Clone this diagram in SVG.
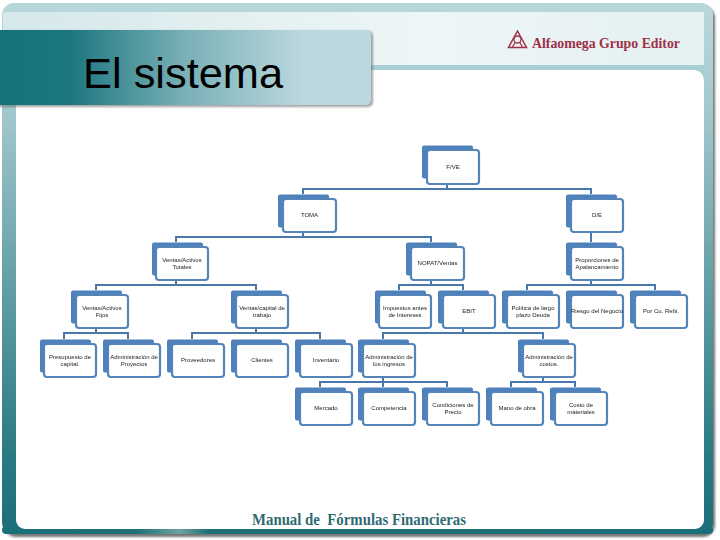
<svg xmlns="http://www.w3.org/2000/svg" width="720" height="540" viewBox="0 0 720 540">
<style>
.back{fill:#4f81bd}
.front{fill:#fff;stroke:#5585b8;stroke-width:2.200}
.lbl{font-family:"Liberation Sans",Arial,sans-serif;font-size:6px;fill:#222;text-anchor:middle;filter:url(#soft)}
.conn path{fill:none;stroke:#4a78ad;stroke-width:2}
</style>
<defs>
<filter id="soft" x="-10%" y="-30%" width="120%" height="160%"><feGaussianBlur stdDeviation="0.25"/></filter>
<filter id="shadow" x="-5%" y="-5%" width="110%" height="115%"><feGaussianBlur stdDeviation="1"/></filter>
<linearGradient id="side" x1="0" y1="0" x2="0" y2="1">
<stop offset="0" stop-color="#b7d7db"/><stop offset="0.12" stop-color="#aed0d4"/><stop offset="0.22" stop-color="#9fc6cb"/><stop offset="0.55" stop-color="#5f9ca3"/><stop offset="0.85" stop-color="#2a7a84"/><stop offset="1" stop-color="#1b6f78"/>
</linearGradient>
<linearGradient id="band" x1="0" y1="0" x2="1" y2="0">
<stop offset="0" stop-color="#d5e8ea"/><stop offset="0.6" stop-color="#eef6f7"/><stop offset="1" stop-color="#e4f0f2"/>
</linearGradient>
<linearGradient id="title" x1="0" y1="0" x2="1" y2="0">
<stop offset="0" stop-color="#14727b"/><stop offset="0.2" stop-color="#1c767f"/><stop offset="0.5" stop-color="#78afb6"/><stop offset="0.82" stop-color="#bbd8de"/><stop offset="1" stop-color="#bcd9df"/>
</linearGradient>
<linearGradient id="bottom" x1="0" y1="0" x2="1" y2="0">
<stop offset="0" stop-color="#1b6f78"/><stop offset="0.19" stop-color="#1f7079"/><stop offset="0.25" stop-color="#6fa39f"/><stop offset="0.29" stop-color="#1f6e78"/><stop offset="1" stop-color="#1b6f78"/>
</linearGradient>
</defs>
<rect width="720" height="540" fill="#fff"/>
<g id="frame">
<rect x="4" y="6" width="711" height="531" rx="12" fill="#777" filter="url(#shadow)"/>
<rect x="2" y="3" width="711" height="531" rx="12" fill="url(#side)"/>
<rect x="2" y="526" width="711" height="8" rx="4" fill="url(#bottom)"/>
<rect x="3" y="12" width="701" height="53" fill="url(#band)"/>
<rect x="16" y="70" width="688" height="459" rx="9" fill="#fff"/>
<rect x="3" y="65" width="701" height="5" fill="#a9cfd4"/>
<path d="M16 70h678a10 10 0 0 1 10 10v-10z" fill="#a9cfd4"/>
</g>
<g id="logo" fill="none" stroke="#a03048">
<path d="M517.500 31L526.500 47.500H508.500Z" stroke-width="1.500"/>
<circle cx="517.500" cy="39.500" r="3.500" stroke-width="1.300"/>
<path d="M512.500 47L515.500 42M522.500 47L519.500 42" stroke-width="1.300"/>
<text x="532" y="48" stroke="none" font-family="'Liberation Serif','Times New Roman',serif" font-weight="bold" font-size="14.500" fill="#9e3048" textLength="148" lengthAdjust="spacingAndGlyphs">Alfaomega Grupo Editor</text>
</g>
<g id="title-bar">
<rect x="-6" y="31" width="379" height="76" rx="5" fill="#666" opacity="0.6" filter="url(#shadow)"/>
<rect x="-6" y="30" width="377" height="75" rx="5" fill="url(#title)"/>
<text x="83" y="87.500" font-family="'Liberation Sans',Arial,sans-serif" font-size="43.400" fill="#000">El sistema</text>
</g>
<g class="conn" id="connectors">
<path d="M447 184V189M303 194V189H591V194"/>
<path d="M303 232V237M176 242V237H431V242"/>
<path d="M591 232V242"/>
<path d="M176 280V285M96 290V285H256V290"/>
<path d="M431 280V285M399 290V285H463V290"/>
<path d="M591 280V285M527 290V285H655V290"/>
<path d="M96 328V333M64 339V333H128V339"/>
<path d="M256 328V333M192 339V333H320V339"/>
<path d="M463 328V333M383 339V333H543V339"/>
<path d="M383 377V382M320 387V382H447V387M383 382V387"/>
<path d="M543 377V382M511 387V382H575V387"/>
</g>
<g id="n-root"><rect class="back" x="422" y="145.500" width="51" height="33" rx="2"/><rect class="front" x="427" y="150" width="52" height="34" rx="3"/><text class="lbl" x="453" y="169">F/VE</text></g>
<g id="n-toma"><rect class="back" x="278" y="194.500" width="51" height="33" rx="2"/><rect class="front" x="283" y="199" width="53" height="33" rx="3"/><text class="lbl" x="309.500" y="217">TOMA</text></g>
<g id="n-de"><rect class="back" x="566" y="194.500" width="51" height="33" rx="2"/><rect class="front" x="571" y="199" width="52" height="33" rx="3"/><text class="lbl" x="597" y="217">D/E</text></g>
<g id="n-vat"><rect class="back" x="152" y="242.500" width="51" height="33" rx="2"/><rect class="front" x="156" y="247" width="52" height="33" rx="3"/><text class="lbl" x="182" y="262">Ventas/Activos</text><text class="lbl" x="182" y="269">Totales</text></g>
<g id="n-nopat"><rect class="back" x="406" y="242.500" width="51" height="33" rx="2"/><rect class="front" x="411" y="247" width="53" height="33" rx="3"/><text class="lbl" x="437.500" y="265">NOPAT/Ventas</text></g>
<g id="n-prop"><rect class="back" x="566" y="242.500" width="51" height="33" rx="2"/><rect class="front" x="571" y="247" width="52" height="33" rx="3"/><text class="lbl" x="597" y="262">Proporciones de</text><text class="lbl" x="597" y="269">Apalancamiento</text></g>
<g id="n-vaf"><rect class="back" x="71" y="290.500" width="51" height="33" rx="2"/><rect class="front" x="76" y="295" width="52" height="33" rx="3"/><text class="lbl" x="102" y="310">Ventas/Activos</text><text class="lbl" x="102" y="317">Fijos</text></g>
<g id="n-vct"><rect class="back" x="231" y="290.500" width="51" height="33" rx="2"/><rect class="front" x="236" y="295" width="52" height="33" rx="3"/><text class="lbl" x="262" y="310">Ventas/capital de</text><text class="lbl" x="262" y="317">trabajo</text></g>
<g id="n-imp"><rect class="back" x="375" y="290.500" width="51" height="33" rx="2"/><rect class="front" x="379" y="295" width="52" height="33" rx="3"/><text class="lbl" x="405" y="310">Impuestos antes</text><text class="lbl" x="405" y="317">de Intereses</text></g>
<g id="n-ebit"><rect class="back" x="438" y="290.500" width="51" height="33" rx="2"/><rect class="front" x="443" y="295" width="52" height="33" rx="3"/><text class="lbl" x="469" y="313">EBIT</text></g>
<g id="n-pol"><rect class="back" x="502" y="290.500" width="51" height="33" rx="2"/><rect class="front" x="507" y="295" width="52" height="33" rx="3"/><text class="lbl" x="533" y="310">Política de largo</text><text class="lbl" x="533" y="317">plazo Deuda</text></g>
<g id="n-rie"><rect class="back" x="566" y="290.500" width="51" height="33" rx="2"/><rect class="front" x="571" y="295" width="52" height="33" rx="3"/><text class="lbl" x="597" y="313">Riesgo del Negocio</text></g>
<g id="n-por"><rect class="back" x="630" y="290.500" width="51" height="33" rx="2"/><rect class="front" x="635" y="295" width="52" height="33" rx="3"/><text class="lbl" x="661" y="313">Por Cu. Rebi.</text></g>
<g id="n-pre"><rect class="back" x="40" y="339.500" width="51" height="33" rx="2"/><rect class="front" x="44" y="344" width="52" height="33" rx="3"/><text class="lbl" x="70" y="359">Presupuesto de</text><text class="lbl" x="70" y="366">capital.</text></g>
<g id="n-adm"><rect class="back" x="103" y="339.500" width="51" height="33" rx="2"/><rect class="front" x="108" y="344" width="52" height="33" rx="3"/><text class="lbl" x="134" y="359">Administración de</text><text class="lbl" x="134" y="366">Proyectos</text></g>
<g id="n-prov"><rect class="back" x="167" y="339.500" width="51" height="33" rx="2"/><rect class="front" x="172" y="344" width="52" height="33" rx="3"/><text class="lbl" x="198" y="362">Proveedores</text></g>
<g id="n-cli"><rect class="back" x="231" y="339.500" width="51" height="33" rx="2"/><rect class="front" x="236" y="344" width="52" height="33" rx="3"/><text class="lbl" x="262" y="362">Clientes</text></g>
<g id="n-inv"><rect class="back" x="295" y="339.500" width="51" height="33" rx="2"/><rect class="front" x="300" y="344" width="52" height="33" rx="3"/><text class="lbl" x="326" y="362">Inventario</text></g>
<g id="n-ing"><rect class="back" x="358" y="339.500" width="51" height="33" rx="2"/><rect class="front" x="363" y="344" width="52" height="33" rx="3"/><text class="lbl" x="389" y="359">Administración de</text><text class="lbl" x="389" y="366">los ingresos</text></g>
<g id="n-cos"><rect class="back" x="518" y="339.500" width="51" height="33" rx="2"/><rect class="front" x="523" y="344" width="52" height="33" rx="3"/><text class="lbl" x="549" y="359">Administración de</text><text class="lbl" x="549" y="366">costos.</text></g>
<g id="n-mer"><rect class="back" x="295" y="387.500" width="51" height="33" rx="2"/><rect class="front" x="300" y="392" width="52" height="33" rx="3"/><text class="lbl" x="326" y="410">Mercado</text></g>
<g id="n-com"><rect class="back" x="358" y="387.500" width="51" height="33" rx="2"/><rect class="front" x="363" y="392" width="52" height="33" rx="3"/><text class="lbl" x="389" y="410">Competencia</text></g>
<g id="n-con"><rect class="back" x="422" y="387.500" width="51" height="33" rx="2"/><rect class="front" x="427" y="392" width="52" height="33" rx="3"/><text class="lbl" x="453" y="407">Condiciones de</text><text class="lbl" x="453" y="414">Precio</text></g>
<g id="n-man"><rect class="back" x="486" y="387.500" width="51" height="33" rx="2"/><rect class="front" x="491" y="392" width="52" height="33" rx="3"/><text class="lbl" x="517" y="410">Mano de obra</text></g>
<g id="n-mat"><rect class="back" x="550" y="387.500" width="51" height="33" rx="2"/><rect class="front" x="555" y="392" width="52" height="33" rx="3"/><text class="lbl" x="581" y="407">Costo de</text><text class="lbl" x="581" y="414">materiales</text></g>
<text id="footer" x="252" y="525" xml:space="preserve" font-family="'Liberation Serif','Times New Roman',serif" font-weight="bold" font-size="17" fill="#2f6b72" textLength="214" lengthAdjust="spacingAndGlyphs">Manual de  Fórmulas Financieras</text>
</svg>
